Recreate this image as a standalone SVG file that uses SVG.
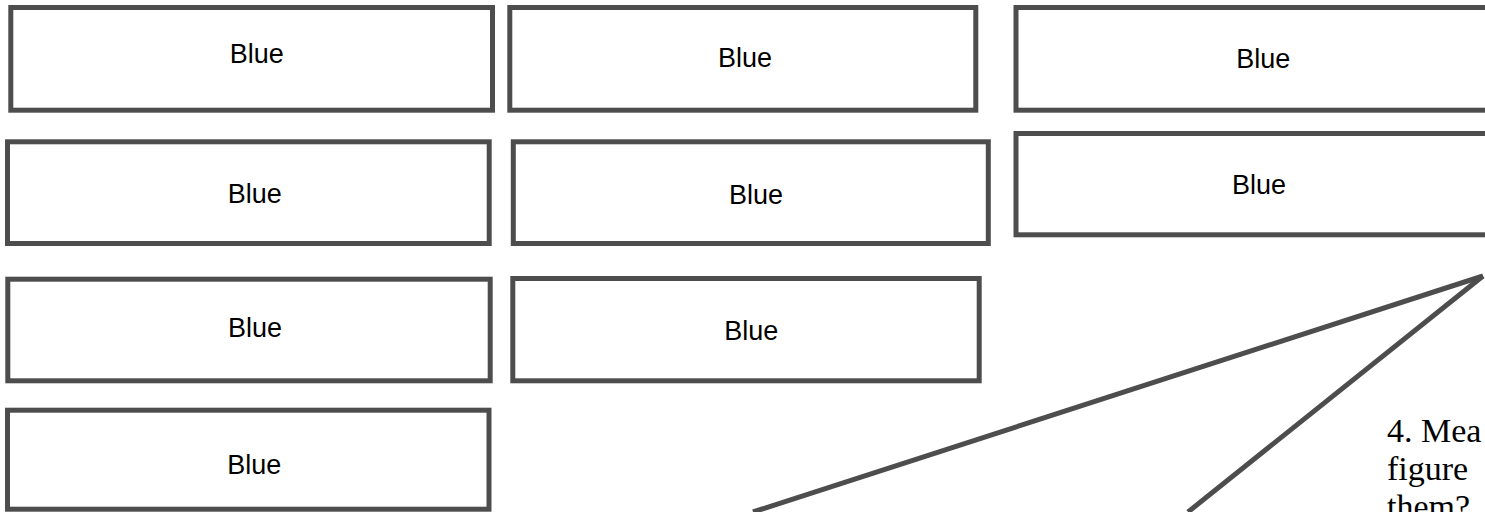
<svg xmlns="http://www.w3.org/2000/svg" width="1485" height="512" viewBox="0 0 1485 512">
<style>
.box{fill:#ffffff;stroke:#4d4d4d;stroke-width:5}
.lbl{font-family:"Liberation Sans",Arial,sans-serif;font-size:27px;fill:#000000;text-anchor:middle}
.conn{fill:none;stroke:#4d4d4d;stroke-width:5}
.note{font-family:"Liberation Serif","Times New Roman",serif;font-size:34px;fill:#000000}
</style>
<rect x="0" y="0" width="1485" height="512" fill="#ffffff"/>
<g id="connectors">
<line class="conn" x1="1483" y1="276" x2="753" y2="512"/>
<line class="conn" x1="1483" y1="276" x2="1188" y2="512"/>
</g>
<g id="node1"><rect class="box" x="10.8" y="7.5" width="481.7" height="102.7"/><text class="lbl" x="256.7" y="63">Blue</text></g>
<g id="node2"><rect class="box" x="509.8" y="7.5" width="466" height="102.7"/><text class="lbl" x="745" y="67">Blue</text></g>
<g id="node3"><rect class="box" x="1016" y="7.5" width="480" height="102.7"/><text class="lbl" x="1263.3" y="68">Blue</text></g>
<g id="node4"><rect class="box" x="7.5" y="141.8" width="481.7" height="101.7"/><text class="lbl" x="254.7" y="203">Blue</text></g>
<g id="node5"><rect class="box" x="513.3" y="141.8" width="475" height="101.7"/><text class="lbl" x="756" y="204">Blue</text></g>
<g id="node6"><rect class="box" x="1016" y="133.5" width="480" height="101.3"/><text class="lbl" x="1259" y="194">Blue</text></g>
<g id="node7"><rect class="box" x="7.8" y="279.2" width="482.4" height="101.6"/><text class="lbl" x="255" y="337">Blue</text></g>
<g id="node8"><rect class="box" x="512.8" y="278.5" width="466.4" height="102.3"/><text class="lbl" x="751.3" y="340">Blue</text></g>
<g id="node9"><rect class="box" x="7.5" y="410.2" width="481.5" height="99"/><text class="lbl" x="254.3" y="474">Blue</text></g>
<g id="note">
<text class="note" x="1387" y="442">4. Mea</text>
<text class="note" x="1387" y="480">figure</text>
<text class="note" x="1387" y="518">them?</text>
</g>
</svg>
